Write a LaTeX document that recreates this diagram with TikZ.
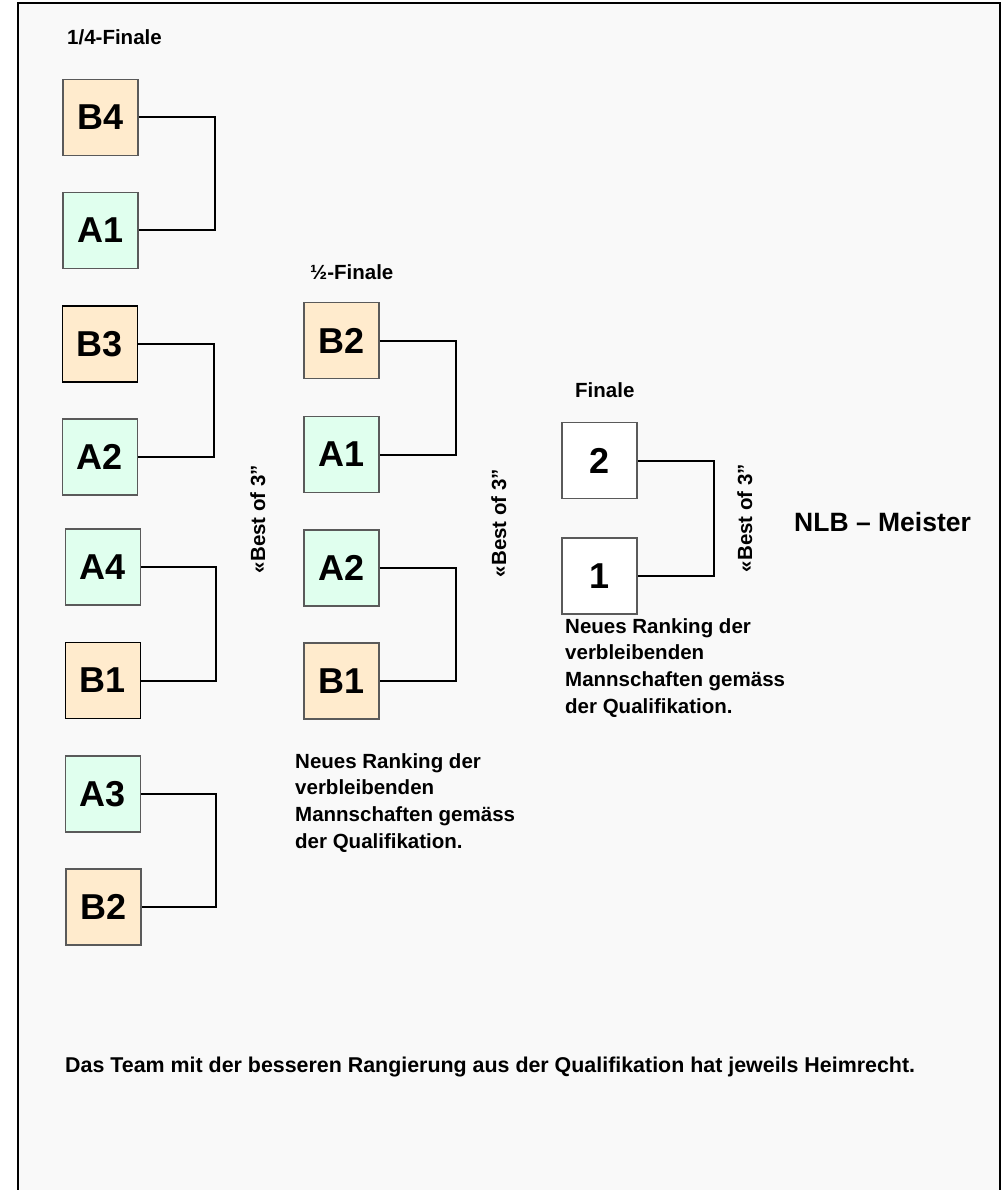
\documentclass[tikz,border=0pt]{standalone}
\usepackage{fontspec}
\setmainfont{Liberation Sans}[Ligatures=NoCommon]
\definecolor{peach}{RGB}{255,235,205}
\definecolor{mint}{RGB}{224,255,238}
\definecolor{pagebg}{RGB}{249,249,249}
\definecolor{boxline}{RGB}{90,90,90}
\newcommand{\bothree}{«Best of 3\char34}
\begin{document}
\begin{tikzpicture}[x=1pt,y=-1pt,
  team/.style={draw=boxline,line width=1.4pt,minimum width=75pt,minimum height=76pt,inner sep=0pt,
    font=\fontsize{36}{40}\selectfont\bfseries},
  teamB/.style={team,fill=peach},
  teamA/.style={team,fill=mint},
  teamW/.style={team,fill=white},
  dark/.style={draw=black},
  conn/.style={draw=black,line width=2pt},
  lbl/.style={inner sep=0pt,font=\fontsize{20.5}{26.7}\selectfont\bfseries},
  bo3/.style={lbl,rotate=90,anchor=base},
  note/.style={lbl,align=left,anchor=north west}]
\clip (0,0) rectangle (1005,1190);
\fill[white] (0,0) rectangle (1005,1190);
\fill[pagebg] (18,3) rectangle (1000,1200);
\draw[line width=2pt] (18,1200) -- (18,3) -- (1000,3) -- (1000,1200);

% titles
\node[lbl,anchor=base west] (tq) at (67,45) {1/4-Finale};
\node[lbl,anchor=base west] (ts) at (310,279) {½-Finale};
\node[lbl,anchor=base west] (tf) at (575,397) {Finale};

% quarter finals
\node[teamB] (qB4) at (100.5,117.5) {B4};
\node[teamA] (qA1) at (100.5,230.5) {A1};
\node[teamB,dark] (qB3) at (100,344) {B3};
\node[teamA] (qA2) at (100,457) {A2};
\node[teamA] (qA4) at (103,567) {A4};
\node[teamB,dark] (qB1) at (103,680.5) {B1};
\node[teamA] (qA3) at (103,794) {A3};
\node[teamB] (qB2) at (103.5,907) {B2};

\draw[conn] (qB4.east) -- ++(76,0) |- (qA1.east);
\draw[conn] (qB3.east) -- ++(76,0) |- (qA2.east);
\draw[conn] (qA4.east) -- ++(75,0) |- (qB1.east);
\draw[conn] (qA3.east) -- ++(75,0) |- (qB2.east);

% semi finals
\node[teamB] (sB2) at (341.5,340.5) {B2};
\node[teamA] (sA1) at (341.5,454.5) {A1};
\node[teamA] (sA2) at (341.5,568) {A2};
\node[teamB] (sB1) at (341.5,681) {B1};

\draw[conn] (sB2.east) -- ++(76,0) |- (sA1.east);
\draw[conn] (sA2.east) -- ++(76,0) |- (sB1.east);

% final
\node[teamW] (f2) at (599.5,460.5) {2};
\node[teamW] (f1) at (599.5,576) {1};
\draw[conn] (f2.east) -- ++(76,0) |- (f1.east);

% best of 3
\node[bo3] (b1) at (265,519) {\bothree};
\node[bo3] (b2) at (506,523) {\bothree};
\node[bo3] (b3) at (752,518) {\bothree};

\node[lbl,anchor=base west,font=\fontsize{26.5}{30}\selectfont\bfseries] (nlb) at (794,531) {NLB – Meister};

% notes
\node[note] (n1) at (295,753) {Neues Ranking der\\verbleibenden\\Mannschaften gemäss\\der Qualifikation.};
\node[note] (n2) at (565,618) {Neues Ranking der\\verbleibenden\\Mannschaften gemäss\\der Qualifikation.};

\node[lbl,anchor=base west,font=\fontsize{21.4}{26}\selectfont\bfseries] (foot) at (65,1072) {Das Team mit der besseren Rangierung aus der Qualifikation hat jeweils Heimrecht.};
\end{tikzpicture}
\end{document}
